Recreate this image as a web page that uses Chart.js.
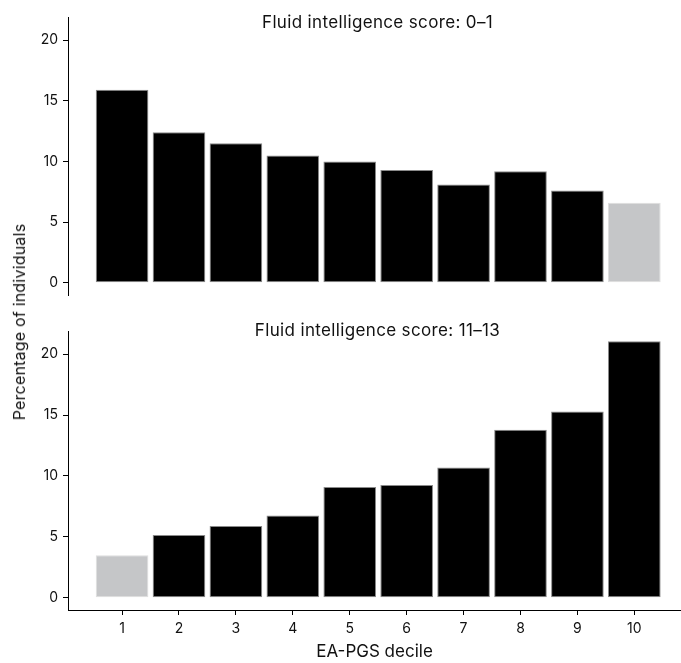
<!DOCTYPE html>
<html>
<head>
<meta charset="utf-8">
<script src="https://cdn.jsdelivr.net/npm/chart.js@4/dist/chart.umd.min.js"></script>
<style>
  body { margin: 0; background: #fff; }
  #wrap { position: relative; width: 681px; height: 663px; font-family: Inter, "Open Sans", sans-serif; color: #111; }
  .panel { position: absolute; left: 0; }
  .ptitle { position: absolute; left: 71px; width: 613px; text-align: center; font-size: 17px; line-height: 20px; letter-spacing: 0.35px; }
  #ytitle { position: absolute; left: 19px; top: 322px; font-size: 16px; line-height: 20px; white-space: nowrap; letter-spacing: 0.2px;
            transform: translate(-50%, -50%) rotate(-90deg); }
</style>
</head>
<body>
<div id="wrap">
  <div class="panel" style="top:0"><canvas id="lowChart" width="681" height="296"></canvas></div>
  <div class="panel" style="top:300px"><canvas id="highChart" width="681" height="363"></canvas></div>
  <div class="ptitle" style="top:12px">Fluid intelligence score: 0–1</div>
  <div class="ptitle" style="top:320px">Fluid intelligence score: 11–13</div>
  <div id="ytitle">Percentage of individuals</div>
</div>
<script>
const deciles = [1, 2, 3, 4, 5, 6, 7, 8, 9, 10];
const lowScorePct = [15.9, 12.4, 11.5, 10.5, 10.0, 9.3, 8.1, 9.2, 7.6, 6.6];
const highScorePct = [3.5, 5.15, 5.9, 6.75, 9.1, 9.25, 10.7, 13.8, 15.3, 21.05];

const BLACK = "#000000";
const GREY = "#c5c6c8";
const tickFont = { family: "Inter, 'Open Sans', sans-serif", size: 14 };

function makePanel(canvasId, values, greyIndex, showX) {
    const ctx = document.getElementById(canvasId).getContext("2d");
    return new Chart(ctx, {
        type: "bar",
        data: {
            datasets: [{
                data: deciles.map((d, i) => ({ x: d, y: values[i] })),
                backgroundColor: c => c.dataIndex === greyIndex ? GREY : BLACK,
                borderColor: c => c.dataIndex === greyIndex ? "#dedede" : "#8a8a8a",
                borderWidth: 1,
                borderSkipped: false,
                barPercentage: 0.925,
                categoryPercentage: 1
            }]
        },
        options: {
            responsive: false,
            animation: false,
            layout: { padding: { top: showX ? 31 : 17, bottom: showX ? 0 : 1, left: 0, right: 0 } },
            plugins: { legend: { display: false }, tooltip: { enabled: false } },
            scales: {
                x: {
                    type: "linear",
                    display: showX,
                    offset: false,
                    min: 0.05,
                    max: 10.82,
                    afterFit: s => {
                        s.paddingLeft = 0;
                        s.paddingRight = 0;
                        if (showX) s.height = 53;
                    },
                    grid: { offset: false, drawOnChartArea: false, drawTicks: true, tickLength: 5, color: "#000" },
                    border: { display: true, color: "#000", width: 1 },
                    ticks: { stepSize: 1, includeBounds: false, padding: 5, color: "#111", font: tickFont },
                    title: {
                        display: true,
                        text: "EA-PGS decile",
                        color: "#111",
                        font: { family: "Inter, 'Open Sans', sans-serif", size: 17 },
                        padding: { top: 0, bottom: 1 }
                    }
                },
                y: {
                    min: -1,
                    max: 21.9,
                    afterFit: s => {
                        s.width = 68;
                        s.paddingTop = 0;
                        s.paddingBottom = 0;
                    },
                    grid: { drawOnChartArea: false, drawTicks: true, tickLength: 5, color: "#000" },
                    border: { display: true, color: "#000", width: 1 },
                    ticks: { stepSize: 5, includeBounds: false, padding: 5, color: "#111", font: tickFont }
                }
            }
        }
    });
}

makePanel("lowChart", lowScorePct, 9, false);
makePanel("highChart", highScorePct, 0, true);
</script>
</body>
</html>
